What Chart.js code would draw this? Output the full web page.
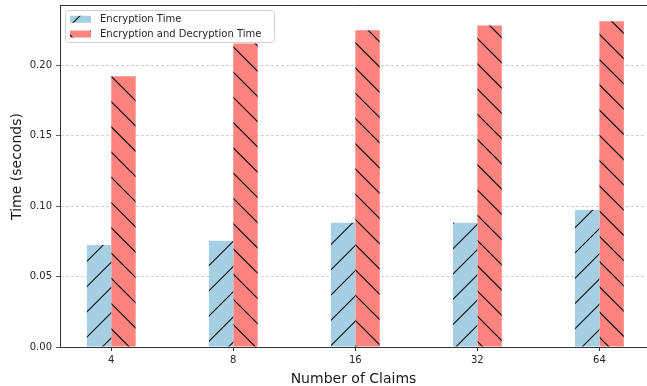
<!DOCTYPE html>
<html>
<head>
<meta charset="utf-8">
<script src="https://cdn.jsdelivr.net/npm/chart.js@4/dist/chart.umd.min.js"></script>
<style>
  html, body { margin: 0; padding: 0; background: #fff; overflow: hidden; }
  #wrap { width: 647px; height: 386px; }
</style>
</head>
<body>
<div id="wrap"><canvas id="chart" width="647" height="386"></canvas></div>
<script>
// Number of claims on the x axis
const categories = ['4', '8', '16', '32', '64'];
// Measured times in seconds
const encryptionTime = [0.0724, 0.0755, 0.0883, 0.0883, 0.0973];
const encDecTime = [0.1924, 0.2156, 0.2251, 0.2284, 0.2315];
const seriesNames = ['Encryption Time', 'Encryption and Decryption Time'];
const yTicks = [0, 0.05, 0.10, 0.15, 0.20];
const yTitle = 'Time (seconds)';

const BLUE = '#a6cfe3';
const RED = '#fd837f';

// Hatched fill: base colour with thin black diagonals.
// dir = 1 draws "\" lines, dir = -1 draws "/" lines.
function hatch(color, dir, phase) {
  const T = 101, P = T / 4;
  const c = document.createElement('canvas');
  c.width = T; c.height = T;
  const g = c.getContext('2d');
  g.fillStyle = color;
  g.fillRect(0, 0, T, T);
  g.strokeStyle = '#111';
  g.lineWidth = 1.1;
  g.beginPath();
  for (let k = -12; k <= 12; k++) {
    const off = phase + k * P;
    if (dir > 0) { g.moveTo(-5, -5 + off); g.lineTo(T + 5, T + 5 + off); }
    else { g.moveTo(-5, 5 + off); g.lineTo(T + 5, -T - 5 + off); }
  }
  g.stroke();
  return g.createPattern(c, 'repeat');
}
const ctx = document.getElementById('chart').getContext('2d');
const bluePattern = hatch(BLUE, -1, 20);
const redPattern = hatch(RED, 1, 15.6);

Chart.defaults.font.family = "'DejaVu Sans', sans-serif";
Chart.defaults.font.size = 10;
Chart.defaults.color = '#262626';

// Top spine of the axes frame
const frameTop = {
  id: 'frameTop',
  afterDraw(chart) {
    const { ctx, chartArea: a } = chart;
    ctx.save();
    ctx.strokeStyle = '#333';
    ctx.lineWidth = 1;
    ctx.beginPath();
    ctx.moveTo(a.left, a.top + 0.5);
    ctx.lineTo(a.right, a.top + 0.5);
    ctx.stroke();
    ctx.restore();
  }
};

// Rotated y-axis label, sitting a little above the vertical centre of the plot
const yAxisLabel = {
  id: 'yAxisLabel',
  afterDraw(chart) {
    const { ctx, chartArea: a } = chart;
    ctx.save();
    ctx.translate(17.5, (a.top + a.bottom) / 2 - 9.5);
    ctx.rotate(-Math.PI / 2);
    ctx.font = "14px 'DejaVu Sans'";
    ctx.fillStyle = '#1a1a1a';
    ctx.textAlign = 'center';
    ctx.textBaseline = 'middle';
    ctx.fillText(yTitle, 0, 0);
    ctx.restore();
  }
};

// Legend box in the upper-left corner of the plot
const insetLegend = {
  id: 'insetLegend',
  afterDraw(chart) {
    const { ctx } = chart;
    const x = 65.5, y = 10.5, w = 209, h = 32, r = 3;
    ctx.save();
    ctx.beginPath();
    ctx.roundRect(x, y, w, h, r);
    ctx.fillStyle = 'rgba(255,255,255,0.8)';
    ctx.fill();
    ctx.strokeStyle = '#d0d0d0';
    ctx.lineWidth = 1;
    ctx.stroke();
    const rows = [19.3, 34];
    chart.data.datasets.forEach((ds, i) => {
      ctx.fillStyle = ds.backgroundColor;
      ctx.fillRect(70, rows[i] - 3.5, 21, 7);
      ctx.fillStyle = '#262626';
      ctx.font = "10px 'DejaVu Sans'";
      ctx.textBaseline = 'middle';
      ctx.textAlign = 'left';
      ctx.fillText(ds.label, 100, rows[i]);
    });
    ctx.restore();
  }
};

new Chart(ctx, {
  type: 'bar',
  data: {
    datasets: [
      {
        label: seriesNames[0],
        data: encryptionTime.map((v, i) => ({ x: i, y: v })),
        backgroundColor: bluePattern,
        borderWidth: 0,
        categoryPercentage: 0.4,
        barPercentage: 1.0
      },
      {
        label: seriesNames[1],
        data: encDecTime.map((v, i) => ({ x: i, y: v })),
        backgroundColor: redPattern,
        borderWidth: 0,
        categoryPercentage: 0.4,
        barPercentage: 1.0
      }
    ]
  },
  options: {
    responsive: false,
    animation: false,
    layout: { padding: { top: 5, left: 0, right: 0, bottom: 0 } },
    plugins: {
      legend: { display: false },
      tooltip: { enabled: false }
    },
    scales: {
      x: {
        type: 'linear',
        offset: false,
        min: -0.42,
        max: 4.39,
        afterBuildTicks: s => { s.ticks = categories.map((_, i) => ({ value: i })); },
        afterFit: s => { s.height = 39; s.paddingLeft = 0; s.paddingRight = 0; },
        ticks: {
          callback: v => categories[v] ?? '',
          padding: 3,
          autoSkip: false,
          maxRotation: 0
        },
        grid: { offset: false, drawOnChartArea: false, drawTicks: true, tickLength: 4, tickColor: '#333' },
        border: { color: '#333', width: 1 },
        title: {
          display: true,
          text: 'Number of Claims',
          font: { size: 14 },
          color: '#1a1a1a',
          padding: { top: 0, bottom: -2 }
        }
      },
      y: {
        min: 0,
        max: 0.243,
        afterBuildTicks: s => { s.ticks = yTicks.map(v => ({ value: v })); },
        afterFit: s => { s.width = 60; s.paddingTop = 0; s.paddingBottom = 0; },
        ticks: { callback: v => v.toFixed(2), padding: 4 },
        grid: { color: '#c4c4c4', lineWidth: 0.8, drawTicks: true, tickLength: 4, tickColor: '#333' },
        border: { dash: [3, 2], color: '#333', width: 1 }
      }
    }
  },
  plugins: [frameTop, yAxisLabel, insetLegend]
});
</script>
</body>
</html>
